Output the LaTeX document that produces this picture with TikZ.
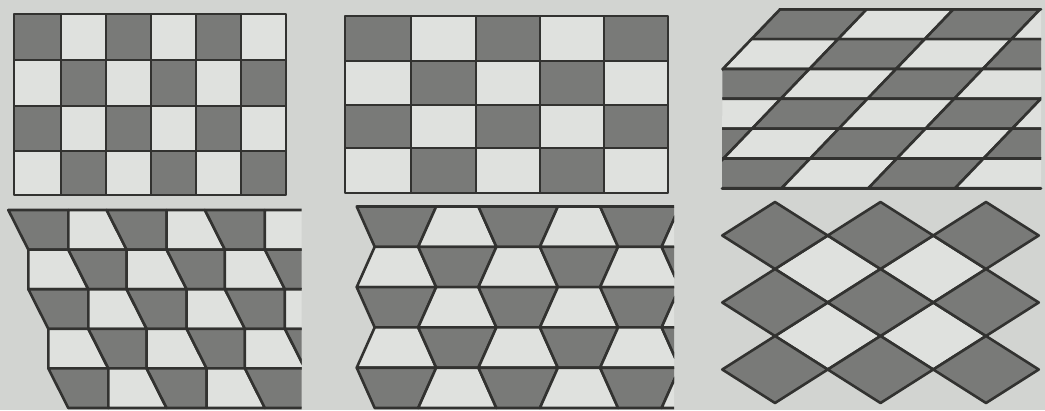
\documentclass[tikz,border=0pt]{standalone}
\definecolor{bg}{RGB}{210,212,209}
\definecolor{lt}{RGB}{223,225,222}
\definecolor{dk}{RGB}{121,122,120}
\definecolor{ln}{RGB}{50,50,48}
\tikzset{
  tile/.style={draw=ln, line width=2.6pt, line join=round},
  edge/.style={draw=ln, line width=2.6pt, line cap=round},
}
\begin{document}
\begin{tikzpicture}[x=1pt,y=-1pt]
\fill[bg] (0,0) rectangle (1045,410);
\useasboundingbox (0,0) rectangle (1045,410);

% ---------- Panel 1: square checkerboard 6x4
\def\PAx{{14,61,106,151,196,241,286}}
\def\PAy{{14,60,106,151,195}}
\foreach \i in {0,...,5}{\foreach \j in {0,...,3}{
  \pgfmathsetmacro\xa{\PAx[\i]}\pgfmathsetmacro\xb{\PAx[\i+1]}
  \pgfmathsetmacro\ya{\PAy[\j]}\pgfmathsetmacro\yb{\PAy[\j+1]}
  \pgfmathtruncatemacro\c{mod(\i+\j,2)}
  \ifnum\c=0 \def\fc{dk}\else\def\fc{lt}\fi
  \path[tile, fill=\fc] (\xa,\ya) rectangle (\xb,\yb);
}}

% ---------- Panel 2: rectangular checkerboard 5x4
\def\PBx{{345,411,476,540,604,668}}
\def\PBy{{16,61,105,148,193}}
\foreach \i in {0,...,4}{\foreach \j in {0,...,3}{
  \pgfmathsetmacro\xa{\PBx[\i]}\pgfmathsetmacro\xb{\PBx[\i+1]}
  \pgfmathsetmacro\ya{\PBy[\j]}\pgfmathsetmacro\yb{\PBy[\j+1]}
  \pgfmathtruncatemacro\c{mod(\i+\j,2)}
  \ifnum\c=0 \def\fc{dk}\else\def\fc{lt}\fi
  \path[tile, fill=\fc] (\xa,\ya) rectangle (\xb,\yb);
}}

% ---------- Panel 3: parallelograms
\begin{scope}
\clip (780,9.3) -- (1041,9.3) -- (1041,188.3) -- (722,188.3) -- (722.4,69.3) -- cycle;
\foreach \r in {0,...,5}{\foreach \i in {-1,...,5}{
  \pgfmathsetmacro\yt{9.3+29.83*\r}\pgfmathsetmacro\yb{\yt+29.83}
  \pgfmathsetmacro\xtl{780+86.7*\i-0.96*(\yt-9.3)}
  \pgfmathsetmacro\xbl{\xtl-0.96*29.83}
  \pgfmathsetmacro\xtr{\xtl+86.7}\pgfmathsetmacro\xbr{\xbl+86.7}
  \pgfmathtruncatemacro\c{mod(\i+\r+10,2)}
  \ifnum\c=0 \def\fc{dk}\else\def\fc{lt}\fi
  \path[tile, fill=\fc] (\xtl,\yt) -- (\xtr,\yt) -- (\xbr,\yb) -- (\xbl,\yb) -- cycle;
}}
\end{scope}
\coordinate (p3a) at (780,9.3);
\coordinate (p3b) at (1041,9.3);
\coordinate (p3c) at (722.4,69.3);
\coordinate (p3d) at (722,188.3);
\coordinate (p3e) at (1041,188.3);
\draw[edge] (p3c) -- (p3a) -- (p3b);
\draw[edge] (p3d) -- (p3e);

% ---------- Panel 4: right trapezoids (shifted rows)
\begin{scope}
\clip (0,200) rectangle (301.5,410);
\foreach \r in {0,...,4}{\foreach \j in {0,...,3}{
  \pgfmathsetmacro\yt{210+39.6*\r}\pgfmathsetmacro\yb{\yt+39.6}
  \pgfmathtruncatemacro\ev{1-mod(\r,2)}
  \pgfmathsetmacro\at{8.3+98.3*\j+20*int((\r+1)/2)}
  \pgfmathsetmacro\ab{\at+20*\ev}
  \pgfmathsetmacro\bt{68.3+98.3*\j+20*int(\r/2)}
  \pgfmathsetmacro\bb{\bt+20*(1-\ev)}
  \pgfmathsetmacro\ant{\at+98.3}\pgfmathsetmacro\anb{\ab+98.3}
  \ifnum\ev=1 \def\fa{dk}\def\fb{lt}\else\def\fa{lt}\def\fb{dk}\fi
  \path[tile, fill=\fa] (\at,\yt) -- (\bt,\yt) -- (\bb,\yb) -- (\ab,\yb) -- cycle;
  \path[tile, fill=\fb] (\bt,\yt) -- (\ant,\yt) -- (\anb,\yb) -- (\bb,\yb) -- cycle;
}}
\end{scope}

% ---------- Panel 5: isosceles trapezoids
\begin{scope}
\clip (340,200) rectangle (674,410);
\foreach \r in {0,...,4}{\foreach \k in {0,...,3}{
  \pgfmathsetmacro\yt{206.5+40.3*\r}\pgfmathsetmacro\yb{\yt+40.3}
  \pgfmathsetmacro\xa{356.7+121.7*\k}
  \pgfmathsetmacro\xb{\xa+79.5}
  \pgfmathsetmacro\xc{\xa+121.7}
  \pgfmathtruncatemacro\ev{1-mod(\r,2)}
  \ifnum\ev=1
    \path[tile, fill=dk] (\xa,\yt) -- (\xb,\yt) -- ({\xb-18},\yb) -- ({\xa+18},\yb) -- cycle;
    \path[tile, fill=lt] (\xb,\yt) -- (\xc,\yt) -- ({\xc+18},\yb) -- ({\xb-18},\yb) -- cycle;
  \else
    \path[tile, fill=lt] ({\xa+18},\yt) -- ({\xb-18},\yt) -- (\xb,\yb) -- (\xa,\yb) -- cycle;
    \path[tile, fill=dk] ({\xb-18},\yt) -- ({\xc+18},\yt) -- (\xc,\yb) -- (\xb,\yb) -- cycle;
  \fi
}}
\end{scope}

% ---------- Panel 6: diamonds
\def\hw{52.75}\def\hh{33.5}
\foreach \cx/\cy in {827.75/269, 933.25/269, 827.75/336, 933.25/336}{
  \path[tile, fill=lt] ({\cx-\hw},\cy) -- (\cx,{\cy-\hh}) -- ({\cx+\hw},\cy) -- (\cx,{\cy+\hh}) -- cycle;
}
\foreach \cx in {775, 880.5, 986}{\foreach \cy in {235.5, 302.5, 369.5}{
  \path[tile, fill=dk] ({\cx-\hw},\cy) -- (\cx,{\cy-\hh}) -- ({\cx+\hw},\cy) -- (\cx,{\cy+\hh}) -- cycle;
}}
\end{tikzpicture}
\end{document}
